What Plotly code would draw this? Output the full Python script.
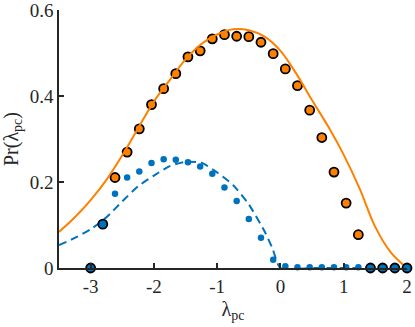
import plotly.graph_objects as go

# sampled lambda_pc positions of the simulated points
lam_pts = [-2.615, -2.423, -2.231, -2.038, -1.846, -1.654, -1.462, -1.269, -1.077,
           -0.885, -0.692, -0.500, -0.308, -0.115, 0.077, 0.269, 0.462, 0.654,
           0.846, 1.038, 1.231]
pr_orange_pts = [0.2105, 0.2695, 0.3236, 0.380, 0.417, 0.452, 0.491, 0.505, 0.533,
                 0.5427, 0.539, 0.538, 0.525, 0.4985, 0.463, 0.424, 0.367, 0.3034,
                 0.223, 0.151, 0.0774]
pr_blue_pts = [0.1726, 0.2105, 0.2244, 0.244, 0.253, 0.2516, 0.246, 0.236, 0.219,
               0.187, 0.1556, 0.1138, 0.0704, 0.0193, 0.004, 0.002, 0.002, 0.002,
               0.002, 0.002, 0.002]

# points where only the blue estimate is shown (outlined)
lam_edge = [-3.0, -2.808, 1.423, 1.615, 1.808, 2.0]
pr_edge = [0.0, 0.102, 0.0, 0.0, 0.0, 0.0]

# theory curves
lam_orange_curve = [-3.5, -3.25, -3.0, -2.75, -2.5, -2.25, -2.0, -1.75, -1.5, -1.25,
                    -1.0, -0.75, -0.5, -0.25, 0.0, 0.25, 0.5, 0.75, 1.0, 1.25,
                    1.5, 1.75, 2.0]
pr_orange_curve = [0.084, 0.118, 0.158, 0.205, 0.262, 0.325, 0.387, 0.437, 0.485,
                   0.521, 0.543, 0.555, 0.553, 0.538, 0.505, 0.452, 0.39, 0.33,
                   0.263, 0.185, 0.095, 0.035, 0.0]

lam_blue_curve = [-3.5, -3.25, -3.0, -2.75, -2.5, -2.25, -2.0, -1.75, -1.5, -1.25,
                  -1.0, -0.75, -0.5, -0.25, -0.125, 0.0, 0.5, 1.0, 1.5, 2.0]
pr_blue_curve = [0.053, 0.07, 0.09, 0.118, 0.155, 0.19, 0.215, 0.237, 0.247, 0.245,
                 0.222, 0.193, 0.148, 0.085, 0.045, 0.0, 0.0, 0.0, 0.0, 0.0]

x_ticks = [-3, -2, -1, 0, 1, 2]
x_ticktext = ['-3', '-2', '-1', '0', '1', '2']
y_ticks = [0, 0.2, 0.4, 0.6]
y_ticktext = ['0', '0.2', '0.4', '0.6']

ORANGE = '#FF8000'
BLUE = '#0072BD'
AXIS = '#262626'
FONT = 'Liberation Serif, DejaVu Serif, serif'

fig = go.Figure()

fig.add_trace(go.Scatter(x=lam_pts, y=pr_orange_pts, mode='markers', cliponaxis=False,
                         marker=dict(color=ORANGE, size=9, line=dict(color='black', width=1.8))))
fig.add_trace(go.Scatter(x=lam_pts, y=pr_blue_pts, mode='markers', cliponaxis=False,
                         marker=dict(color=BLUE, size=6.5)))
fig.add_trace(go.Scatter(x=lam_orange_curve, y=pr_orange_curve, mode='lines', cliponaxis=False,
                         line=dict(color=ORANGE, width=2, shape='spline')))
fig.add_trace(go.Scatter(x=lam_blue_curve, y=pr_blue_curve, mode='lines', cliponaxis=False,
                         line=dict(color=BLUE, width=2, dash='8px,5px', shape='spline', smoothing=0.6)))
fig.add_trace(go.Scatter(x=lam_edge, y=pr_edge, mode='markers', cliponaxis=False,
                         marker=dict(color=BLUE, size=9, line=dict(color='black', width=1.8))))

fig.update_layout(
    width=415, height=327,
    margin=dict(l=59, r=8, t=10, b=59),
    plot_bgcolor='white', paper_bgcolor='white',
    showlegend=False,
    font=dict(family=FONT, size=19, color=AXIS),
    xaxis=dict(range=[-3.5, 2], tickvals=x_ticks, ticktext=x_ticktext,
               showgrid=False, zeroline=False, showline=True, linecolor=AXIS, linewidth=1.5,
               ticks='inside', ticklen=5, tickwidth=1.5, tickcolor=AXIS,
               ticklabeloverflow='allow', automargin=False,
               title=dict(text='λ<sub>pc</sub>', font=dict(size=20), standoff=6)),
    yaxis=dict(range=[0, 0.6], tickvals=y_ticks, ticktext=y_ticktext,
               showgrid=False, zeroline=False, showline=True, linecolor=AXIS, linewidth=1.5,
               ticks='inside', ticklen=5, tickwidth=1.5, tickcolor=AXIS,
               ticklabeloverflow='allow', automargin=False,
               title=dict(text='Pr(λ<sub>pc</sub>)', font=dict(size=20), standoff=6)),
)

# the page body has a default 8px margin; drop it so the chart sits at the window origin
fig.write_html("out.html", config={'displayModeBar': False},
               post_script="document.body.style.margin='0';")
